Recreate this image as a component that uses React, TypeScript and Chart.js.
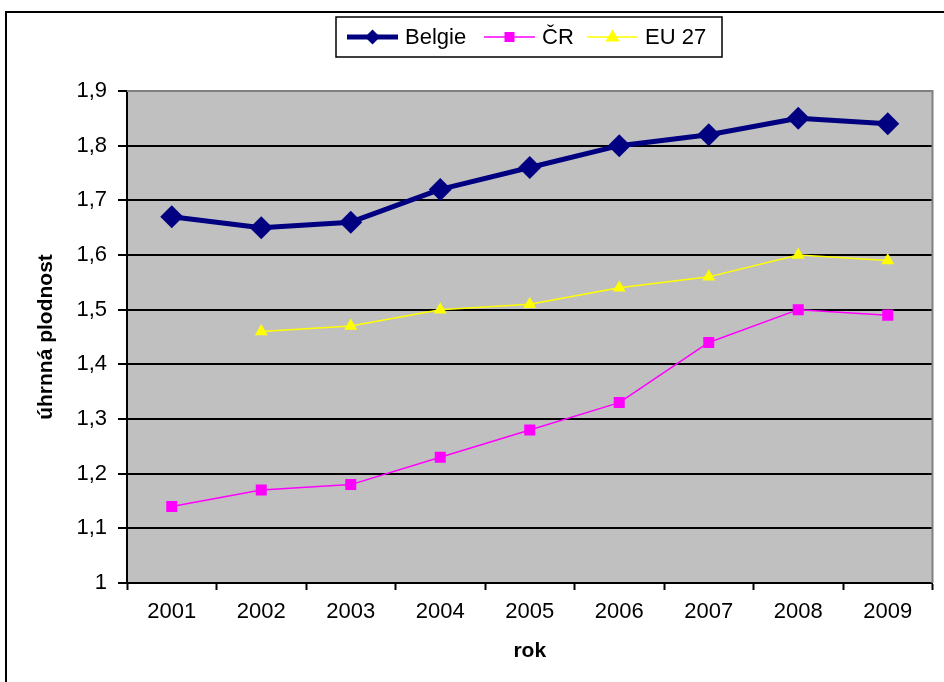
import React, { useEffect, useRef } from 'react';
import { Chart, registerables } from 'chart.js';

Chart.register(...registerables);

const years = ['2001', '2002', '2003', '2004', '2005', '2006', '2007', '2008', '2009'];
const belgie = [1.67, 1.65, 1.66, 1.72, 1.76, 1.8, 1.82, 1.85, 1.84];
const cr = [1.14, 1.17, 1.18, 1.23, 1.28, 1.33, 1.44, 1.5, 1.49];
const eu27 = [null, 1.46, 1.47, 1.5, 1.51, 1.54, 1.56, 1.6, 1.59];
const seriesNames = ['Belgie', 'ČR', 'EU 27'];
const yMin = 1;
const yMax = 1.9;
const yStep = 0.1;
const xTitle = 'rok';
const yTitle = 'úhrnná plodnost';

const FONT = '"Liberation Sans", Arial, sans-serif';
const NAVY = '#000080';
const PINK = '#FF00FF';
const YELLOW = '#FFFF00';

function drawMarker(ctx: CanvasRenderingContext2D, kind: string, x: number, y: number, r: number, color: string) {
  ctx.save();
  ctx.fillStyle = color;
  ctx.beginPath();
  if (kind === 'diamond') {
    ctx.moveTo(x, y - r);
    ctx.lineTo(x + r, y);
    ctx.lineTo(x, y + r);
    ctx.lineTo(x - r, y);
  } else if (kind === 'square') {
    ctx.rect(x - r, y - r, 2 * r, 2 * r);
  } else {
    ctx.moveTo(x, y - r);
    ctx.lineTo(x + r * 0.95, y + r * 0.6);
    ctx.lineTo(x - r * 0.95, y + r * 0.6);
  }
  ctx.closePath();
  ctx.fill();
  ctx.restore();
}

const framePlugin = {
  id: 'frameAndBg',
  beforeDraw(chart: any) {
    const { ctx, chartArea } = chart;
    ctx.save();
    ctx.fillStyle = '#FFFFFF';
    ctx.fillRect(0, 0, chart.width, chart.height);
    ctx.strokeStyle = '#000000';
    ctx.lineWidth = 2;
    ctx.beginPath();
    ctx.moveTo(6, chart.height);
    ctx.lineTo(6, 12);
    ctx.lineTo(chart.width, 12);
    ctx.stroke();
    ctx.fillStyle = '#C0C0C0';
    ctx.fillRect(chartArea.left, chartArea.top, chartArea.right - chartArea.left, chartArea.bottom - chartArea.top);
    ctx.restore();
  },
  beforeDatasetsDraw(chart: any) {
    const { ctx, chartArea } = chart;
    ctx.save();
    ctx.strokeStyle = '#808080';
    ctx.lineWidth = 2;
    ctx.beginPath();
    ctx.moveTo(chartArea.left, chartArea.top);
    ctx.lineTo(chartArea.right, chartArea.top);
    ctx.lineTo(chartArea.right, chartArea.bottom);
    ctx.stroke();
    ctx.restore();
  },
  afterDraw(chart: any) {
    const { ctx } = chart;
    ctx.save();
    const bx = 336, by = 17, bw = 386, bh = 40;
    ctx.fillStyle = '#FFFFFF';
    ctx.fillRect(bx, by, bw, bh);
    ctx.strokeStyle = '#000000';
    ctx.lineWidth = 1.5;
    ctx.strokeRect(bx, by, bw, bh);
    const cy = by + bh / 2;
    const items = [
      { name: seriesNames[0], color: NAVY, lw: 5, kind: 'diamond', r: 7.5, x0: 347 },
      { name: seriesNames[1], color: PINK, lw: 1.5, kind: 'square', r: 5, x0: 484 },
      { name: seriesNames[2], color: YELLOW, lw: 1.5, kind: 'triangle', r: 7.5, x0: 587 },
    ];
    ctx.font = `22px ${FONT}`;
    ctx.textBaseline = 'middle';
    ctx.textAlign = 'left';
    for (const it of items) {
      ctx.strokeStyle = it.color;
      ctx.lineWidth = it.lw;
      ctx.beginPath();
      ctx.moveTo(it.x0, cy);
      ctx.lineTo(it.x0 + 51, cy);
      ctx.stroke();
      drawMarker(ctx, it.kind, it.x0 + 25.5, cy, it.r, it.color);
      ctx.fillStyle = '#000000';
      ctx.fillText(it.name, it.x0 + 58, cy + 1);
    }
    ctx.restore();
  },
};

function fmt(v: number) {
  const r = Math.round(v * 10) / 10;
  return String(r).replace('.', ',');
}

export default function App() {
  const ref = useRef<HTMLCanvasElement | null>(null);
  useEffect(() => {
    if (!ref.current) return;
    const chart = new Chart(ref.current, {
      type: 'line',
      data: {
        labels: years,
        datasets: [
          {
            label: seriesNames[0],
            data: belgie,
            borderColor: NAVY,
            backgroundColor: NAVY,
            borderWidth: 5,
            pointStyle: 'rectRot',
            pointRadius: 11.5,
            pointBorderWidth: 0,
            pointBackgroundColor: NAVY,
            tension: 0,
          },
          {
            label: seriesNames[1],
            data: cr,
            borderColor: PINK,
            backgroundColor: PINK,
            borderWidth: 1.5,
            pointStyle: 'rect',
            pointRadius: 7.8,
            pointBorderWidth: 0,
            pointBackgroundColor: PINK,
            tension: 0,
          },
          {
            label: seriesNames[2],
            data: eu27,
            borderColor: YELLOW,
            backgroundColor: YELLOW,
            borderWidth: 1.5,
            pointStyle: 'triangle',
            pointRadius: 7.5,
            pointBorderWidth: 0,
            pointBackgroundColor: YELLOW,
            tension: 0,
          },
        ],
      },
      options: {
        responsive: false,
        animation: false,
        layout: { padding: { left: 0, right: 7, top: 91, bottom: 0 } },
        plugins: {
          legend: { display: false },
          tooltip: { enabled: false },
        },
        elements: { line: { borderJoinStyle: 'round' } },
        scales: {
          x: {
            offset: true,
            grid: {
              offset: true,
              drawOnChartArea: false,
              drawTicks: true,
              tickLength: 7,
              tickColor: '#000000',
              tickWidth: 2,
            },
            border: { color: '#000000', width: 2 },
            ticks: {
              color: '#000000',
              font: { family: FONT, size: 22 },
              padding: 9,
              maxRotation: 0,
              autoSkip: false,
            },
            title: {
              display: true,
              text: xTitle,
              color: '#000000',
              font: { family: FONT, size: 21, weight: 'bold' },
              padding: { top: 18, bottom: 18 },
            },
            afterFit(scale: any) {
              scale.height = 99;
            },
          },
          y: {
            min: yMin,
            max: yMax,
            ticks: {
              stepSize: yStep,
              color: '#000000',
              font: { family: FONT, size: 22 },
              padding: 11,
              callback: (v: any) => fmt(Number(v)),
            },
            grid: {
              color: (c: any) => (c.tick && Math.abs(c.tick.value - yMax) < 1e-6 ? '#808080' : '#000000'),
              lineWidth: 2,
              tickLength: 9,
              tickColor: '#000000',
              tickWidth: 2,
            },
            border: { color: '#000000', width: 2 },
            title: {
              display: true,
              text: yTitle,
              color: '#000000',
              font: { family: FONT, size: 21, weight: 'bold' },
              padding: { top: 34, bottom: 0 },
            },
            afterFit(scale: any) {
              scale.width = 127;
            },
          },
        },
      },
      plugins: [framePlugin],
    } as any);
    return () => chart.destroy();
  }, []);
  return (
    <div style={{ position: 'fixed', left: 0, top: 0, width: 944, height: 682 }}>
      <canvas ref={ref} width={944} height={682} style={{ display: 'block' }} />
    </div>
  );
}
